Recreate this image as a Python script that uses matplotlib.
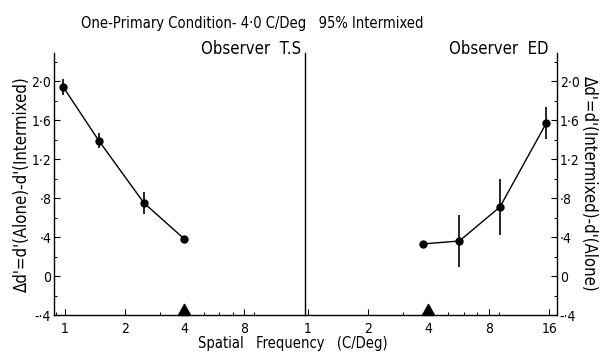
import matplotlib.pyplot as plt
import numpy as np
from matplotlib.ticker import FixedLocator, NullFormatter, LogLocator

# Observer T.S  (left panel)
ts_freq = [0.98, 1.48, 2.5, 4.0]
ts_dd = [1.94, 1.39, 0.75, 0.38]
ts_err = [0.085, 0.075, 0.11, 0.0]

# Observer ED  (right panel)
ed_freq = [3.75, 5.7, 9.1, 15.5]
ed_dd = [0.33, 0.36, 0.71, 1.57]
ed_err = [0.0, 0.27, 0.29, 0.165]

trained_freq = 4.0
x_ticks_left = [1, 2, 4, 8]
x_ticks_right = [1, 2, 4, 8, 16]
y_ticks = [-0.4, 0.0, 0.4, 0.8, 1.2, 1.6, 2.0]
y_ticklabels = ["-·4", "0", "·4", "·8", "1·2", "1·6", "2·0"]

plt.rcParams["font.family"] = "DejaVu Sans"
plt.rcParams["font.stretch"] = "condensed"

fig = plt.figure(figsize=(6.16, 3.58), dpi=100)
axL = fig.add_axes([0.0877, 0.120, 0.4073, 0.732])
axR = fig.add_axes([0.495, 0.120, 0.409, 0.732])

# triangle marker with its base at the origin, so it sits on the axis
tri = [(-0.55, 0), (0.55, 0), (0, 1), (-0.55, 0)]


def style(ax, xlim, ticks, side):
    ax.set_facecolor("none")
    ax.set_xscale("log")
    ax.set_xlim(*xlim)
    ax.set_ylim(-0.4, 2.29)
    ax.xaxis.set_major_locator(FixedLocator(ticks))
    ax.set_xticklabels([str(v) for v in ticks], fontsize=10)
    ax.xaxis.set_minor_locator(LogLocator(base=10, subs=np.arange(2, 10)))
    ax.xaxis.set_minor_formatter(NullFormatter())
    ax.set_yticks(y_ticks)
    ax.set_yticklabels(y_ticklabels, fontsize=10)
    ax.set_yticks(np.arange(-0.4, 2.3, 0.2), minor=True)
    ax.tick_params(axis="both", which="major", direction="in", length=4, width=0.8, pad=3)
    ax.tick_params(axis="both", which="minor", direction="in", length=2.5, width=0.7)
    ax.tick_params(axis="x", pad=5)
    ax.spines["top"].set_visible(False)
    if side == "left":
        ax.tick_params(axis="y", which="both", left=True, right=False, labelleft=True, pad=2)
    else:
        ax.spines["left"].set_visible(False)
        ax.yaxis.tick_right()
        ax.tick_params(axis="y", which="both", left=False, right=True, labelright=True,
                       labelleft=False, pad=2)
    for s in ax.spines.values():
        s.set_linewidth(1.0)
        s.set_color("black")


style(axL, (0.88, 16.2), x_ticks_left, "left")
style(axR, (0.966, 17.5), x_ticks_right, "right")

axL.plot(ts_freq, ts_dd, color="black", lw=1.0, marker="o", ms=5)
axL.errorbar(ts_freq, ts_dd, yerr=ts_err, fmt="none", ecolor="black", elinewidth=1.2, capsize=0)
axR.plot(ed_freq, ed_dd, color="black", lw=1.0, marker="o", ms=5)
axR.errorbar(ed_freq, ed_dd, yerr=ed_err, fmt="none", ecolor="black", elinewidth=1.2, capsize=0)

for ax in (axL, axR):
    ax.plot([trained_freq], [-0.4], marker=tri, ms=16, color="black", ls="none", clip_on=False)

axL.text(0.985, 1.015, "Observer  T.S", transform=axL.transAxes, ha="right", va="center",
         fontsize=12)
axR.text(0.965, 1.015, "Observer  ED", transform=axR.transAxes, ha="right", va="center",
         fontsize=12)

axL.set_ylabel("Δd'=d'(Alone)-d'(Intermixed)", fontsize=12, labelpad=0)
axR.yaxis.set_label_position("right")
axR.set_ylabel("Δd'=d'(Intermixed)-d'(Alone)", fontsize=12, rotation=-90, labelpad=13)

fig.text(0.476, 0.040, "Spatial   Frequency   (C/Deg)", ha="center", va="center", fontsize=10.5)
fig.suptitle("One-Primary Condition- 4·0 C/Deg   95% Intermixed", x=0.41, y=0.955,
             fontsize=10.5)

fig.savefig("out.png", dpi=100)
